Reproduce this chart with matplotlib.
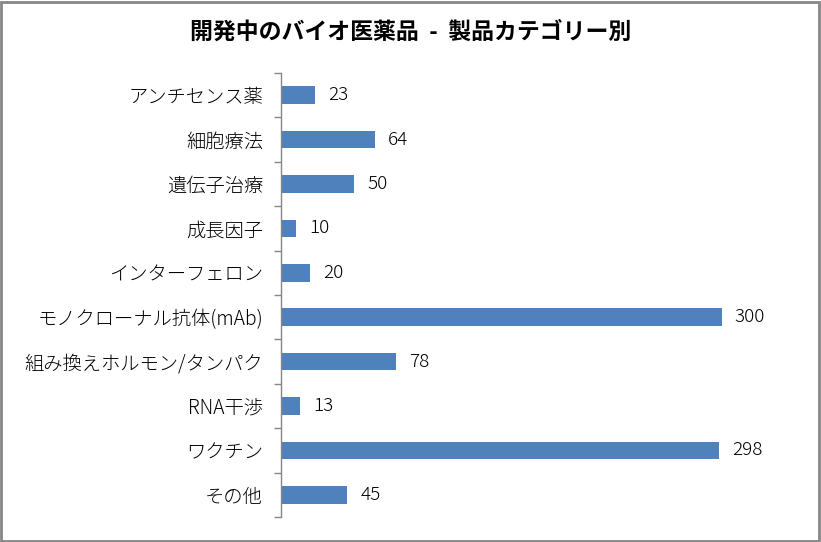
import matplotlib
matplotlib.use("Agg")
import matplotlib.pyplot as plt
from matplotlib.patches import Rectangle

plt.rcParams['font.family'] = ['Noto Sans CJK JP', 'DejaVu Sans']

categories = ["アンチセンス薬", "細胞療法", "遺伝子治療", "成長因子", "インターフェロン",
              "モノクローナル抗体(mAb)", "組み換えホルモン/タンパク", "RNA干渉", "ワクチン", "その他"]
values = [23, 64, 50, 10, 20, 300, 78, 13, 298, 45]
title = "開発中のバイオ医薬品  -  製品カテゴリー別"

fig = plt.figure(figsize=(8.21, 5.42), dpi=100)
ax = fig.add_axes([281/821, 25/542, 514/821, 444/542])

y = list(range(len(categories)))
ax.barh(y, values, height=0.4, color="#4F81BD")
ax.set_ylim(len(categories) - 0.5, -0.5)
ax.set_xlim(0, 350)

ax.set_yticks(y)
ax.set_yticklabels(categories, fontsize=13.9, fontweight='light')
ax.tick_params(axis='y', which='major', length=0, pad=13)
ax.set_yticks([i - 0.5 for i in range(len(categories) + 1)], minor=True)
ax.tick_params(axis='y', which='minor', length=5, width=1, color="#868686", direction='out')
ax.set_xticks([])
for s in ['top', 'right', 'bottom']:
    ax.spines[s].set_visible(False)
ax.spines['left'].set_color("#868686")
ax.spines['left'].set_linewidth(1)

for yi, v in zip(y, values):
    ax.annotate(str(v), (v, yi), xytext=(9.5, 0), textcoords='offset points',
                va='center', ha='left', fontsize=13.6, fontweight='light')

fig.text(0.5, 1 - 32/542, title, ha='center', va='center', fontsize=16.5, fontweight='bold')

fig.patches.append(Rectangle((1/821, 1/542), 1 - 3/821, 1 - 3/542, transform=fig.transFigure,
                             fill=False, edgecolor="#868686", linewidth=2))

fig.savefig("out.png", dpi=100)
